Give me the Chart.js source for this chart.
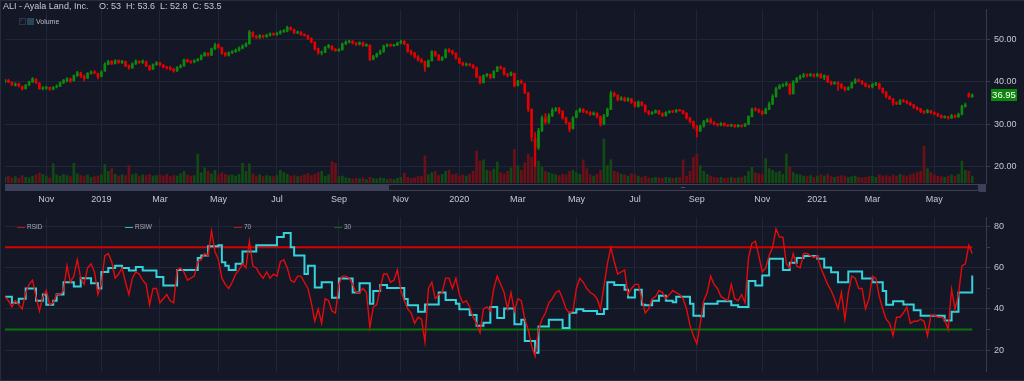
<!DOCTYPE html>
<html><head><meta charset="utf-8">
<script src="https://cdn.jsdelivr.net/npm/chart.js@4.4.1/dist/chart.umd.min.js"></script>
<style>
html,body{margin:0;padding:0;background:#141826;}
#wrap{position:relative;width:1024px;height:381px;overflow:hidden;background:#141826;}
#frame{position:absolute;left:0;top:0;width:1024px;height:381px;box-sizing:border-box;border:1px solid #262b3f;border-right:none;pointer-events:none}
#c1{position:absolute;left:0;top:0}
#c2{position:absolute;left:0;top:208px}
.t{position:absolute;font-family:'Liberation Sans',Arial,sans-serif;color:#c5c9d5;white-space:pre;line-height:1}
.lg{position:absolute;height:1px}
#dbg{position:absolute;left:300px;top:150px;color:#ff0;font:20px sans-serif}
</style></head>
<body><div id="wrap">
<canvas id="c1" width="1024" height="208"></canvas>
<canvas id="c2" width="1024" height="173"></canvas>
<div class="t" style="left:3px;top:2px;font-size:9px">ALI - Ayala Land, Inc.</div>
<div class="t" style="left:99px;top:2px;font-size:9px">O: 53  H: 53.6  L: 52.8  C: 53.5</div>
<div style="position:absolute;left:19px;top:18px;width:5px;height:5px;border:1px solid #2f3548;"></div>
<div class="t" style="left:19px;top:17px;font-size:6px;color:#3b4257">✓</div>
<div style="position:absolute;left:27px;top:18px;width:7px;height:7px;background:#26465a;"></div>
<div class="t" style="left:36px;top:18px;font-size:7px;color:#b9bdc9">Volume</div>
<div class="lg" style="left:17px;top:227px;width:8px;background:#c81010"></div>
<div class="t" style="left:27px;top:224px;font-size:6.5px;color:#a9adb9">RSID</div>
<div class="lg" style="left:125px;top:227px;width:8px;background:#2bb8c0"></div>
<div class="t" style="left:135px;top:224px;font-size:6.5px;color:#a9adb9">RSIW</div>
<div class="lg" style="left:234px;top:227px;width:8px;background:#c81010"></div>
<div class="t" style="left:244px;top:224px;font-size:6.5px;color:#a9adb9">70</div>
<div class="lg" style="left:334px;top:227px;width:8px;background:#0a700a"></div>
<div class="t" style="left:344px;top:224px;font-size:6.5px;color:#a9adb9">30</div>
<div id="frame"></div>
<div id="dbg"></div>
</div>
<script>
const dates = [
'2018-09-20','2018-09-24','2018-09-27','2018-10-01','2018-10-04','2018-10-08','2018-10-11','2018-10-15','2018-10-18','2018-10-22','2018-10-25','2018-10-29',
'2018-11-01','2018-11-05','2018-11-08','2018-11-12','2018-11-15','2018-11-19','2018-11-22','2018-11-26','2018-11-29','2018-12-03','2018-12-06','2018-12-10','2018-12-13','2018-12-17','2018-12-20','2018-12-27',
'2019-01-03','2019-01-07','2019-01-10','2019-01-14','2019-01-17','2019-01-21','2019-01-24','2019-01-28','2019-01-31','2019-02-04','2019-02-07','2019-02-11','2019-02-14','2019-02-18','2019-02-21','2019-02-25','2019-02-28',
'2019-03-04','2019-03-07','2019-03-11','2019-03-14','2019-03-18','2019-03-21','2019-03-25','2019-03-28','2019-04-01','2019-04-04','2019-04-08','2019-04-11','2019-04-15','2019-04-18','2019-04-22','2019-04-25','2019-04-29',
'2019-05-02','2019-05-06','2019-05-09','2019-05-13','2019-05-16','2019-05-20','2019-05-23','2019-05-27','2019-05-30','2019-06-03','2019-06-06','2019-06-10','2019-06-13','2019-06-17','2019-06-20','2019-06-24','2019-06-27',
'2019-07-01','2019-07-04','2019-07-08','2019-07-11','2019-07-15','2019-07-18','2019-07-22','2019-07-25','2019-07-29','2019-08-01','2019-08-05','2019-08-08','2019-08-12','2019-08-15','2019-08-19','2019-08-22','2019-08-26','2019-08-29',
'2019-09-02','2019-09-05','2019-09-09','2019-09-12','2019-09-16','2019-09-19','2019-09-23','2019-09-26','2019-09-30','2019-10-03','2019-10-07','2019-10-10','2019-10-14','2019-10-17','2019-10-21','2019-10-24','2019-10-28','2019-10-31',
'2019-11-04','2019-11-07','2019-11-11','2019-11-14','2019-11-18','2019-11-21','2019-11-25','2019-11-28','2019-12-02','2019-12-05','2019-12-09','2019-12-12','2019-12-16','2019-12-19','2019-12-23','2019-12-26','2019-12-30',
'2020-01-02','2020-01-06','2020-01-09','2020-01-13','2020-01-16','2020-01-20','2020-01-23','2020-01-27','2020-01-30','2020-02-03','2020-02-06','2020-02-10','2020-02-13','2020-02-17','2020-02-20','2020-02-24','2020-02-27',
'2020-03-02','2020-03-05','2020-03-09','2020-03-12','2020-03-16','2020-03-19','2020-03-23','2020-03-26','2020-03-30','2020-04-02','2020-04-06','2020-04-13','2020-04-16','2020-04-20','2020-04-23','2020-04-27','2020-04-30',
'2020-05-04','2020-05-07','2020-05-11','2020-05-14','2020-05-18','2020-05-21','2020-05-25','2020-05-28','2020-06-01','2020-06-04','2020-06-08','2020-06-11','2020-06-15','2020-06-18','2020-06-22','2020-06-25','2020-06-29',
'2020-07-02','2020-07-06','2020-07-09','2020-07-13','2020-07-16','2020-07-20','2020-07-23','2020-07-27','2020-07-30','2020-08-03','2020-08-06','2020-08-10','2020-08-13','2020-08-17','2020-08-20','2020-08-24','2020-08-27','2020-08-31',
'2020-09-03','2020-09-07','2020-09-10','2020-09-14','2020-09-17','2020-09-21','2020-09-24','2020-09-28','2020-09-30','2020-10-01','2020-10-05','2020-10-08','2020-10-12','2020-10-15','2020-10-19','2020-10-22','2020-10-26','2020-10-27','2020-10-29',
'2020-11-02','2020-11-05','2020-11-09','2020-11-12','2020-11-16','2020-11-19','2020-11-23','2020-11-26','2020-11-30','2020-12-03','2020-12-07','2020-12-10','2020-12-14','2020-12-17','2020-12-21','2020-12-28',
'2021-01-04','2021-01-07','2021-01-11','2021-01-14','2021-01-18','2021-01-21','2021-01-25','2021-01-28','2021-02-01','2021-02-04','2021-02-08','2021-02-11','2021-02-15','2021-02-18','2021-02-22','2021-02-25',
'2021-03-01','2021-03-04','2021-03-08','2021-03-11','2021-03-15','2021-03-18','2021-03-22','2021-03-25','2021-03-29','2021-04-01','2021-04-05','2021-04-08','2021-04-12','2021-04-15','2021-04-19','2021-04-22','2021-04-26','2021-04-29',
'2021-05-03','2021-05-06','2021-05-10','2021-05-13','2021-05-17','2021-05-20','2021-05-24','2021-05-27','2021-05-31','2021-06-03','2021-06-07','2021-06-10',
'2021-06-14','2021-06-17','2021-06-21','2021-06-24'
];
const open = [
40.0,40.4,39.9,39.2,39.6,38.9,38.4,39.3,40.0,40.6,39.7,38.4,
38.5,38.7,38.3,38.8,39.0,39.8,40.2,40.8,40.3,41.5,42.1,41.4,40.9,42.0,42.4,42.0,
41.3,42.6,44.2,44.9,44.3,45.1,44.5,44.8,43.9,43.3,44.3,44.9,44.6,44.8,43.8,43.0,44.1,
44.6,44.0,43.5,43.4,43.0,42.6,43.4,43.8,45.2,44.8,44.7,45.0,45.3,46.2,46.8,46.3,47.8,
48.8,48.1,46.8,46.3,46.9,47.2,47.5,48.0,48.5,49.0,51.7,50.8,50.5,50.9,50.7,51.0,51.4,
51.2,51.5,51.9,52.0,52.9,52.4,51.6,51.8,51.2,51.0,50.3,49.4,47.8,46.9,47.0,48.2,48.5,47.7,
47.4,47.6,49.0,49.4,49.6,49.2,48.9,49.3,48.6,48.7,45.4,46.0,46.6,47.2,48.5,48.8,48.6,48.7,
49.2,49.6,48.9,47.2,46.8,46.0,45.2,44.8,43.6,45.0,47.2,46.3,45.2,45.8,47.6,47.3,46.8,
45.6,44.5,44.0,44.2,44.0,43.4,41.2,39.8,41.5,41.8,41.0,42.5,43.5,43.2,41.8,41.6,42.0,
39.2,40.2,39.6,37.4,33.5,26.5,24.5,28.5,31.5,30.5,32.0,33.3,33.6,33.0,31.5,30.3,29.0,
31.6,33.0,33.5,33.0,32.8,32.3,32.6,31.8,30.0,32.0,33.5,37.3,36.8,35.8,36.2,35.6,36.0,
35.2,34.2,35.2,34.5,33.0,32.5,32.8,33.2,32.5,32.0,32.8,33.0,32.9,33.3,33.2,32.6,31.5,30.6,
29.5,28.4,29.5,30.6,31.0,30.4,30.0,29.8,30.2,29.7,29.6,29.8,29.4,29.7,29.5,30.0,31.8,33.5,33.4,
33.0,32.5,33.5,34.8,36.5,38.5,39.0,39.3,39.5,37.2,40.0,40.8,41.3,41.6,41.5,41.7,
41.4,41.8,41.0,41.4,40.0,39.6,39.8,39.5,38.7,38.2,38.6,39.8,40.5,40.2,39.6,39.0,
38.8,39.4,39.6,38.5,37.6,36.5,36.0,35.0,34.8,35.6,35.4,35.0,34.6,34.0,33.6,33.0,32.8,33.2,
32.7,32.4,32.0,31.6,31.8,31.5,32.0,31.7,32.3,34.2,37.2,36.5
];
const high = [
40.6,40.6,40.1,39.8,39.7,39.0,39.4,40.2,41.0,40.8,39.8,38.9,
39.0,38.8,38.9,39.3,40.0,40.6,41.0,40.9,41.7,42.5,42.3,41.6,42.2,42.6,42.7,42.1,
42.6,44.5,45.1,45.0,45.3,45.2,45.1,44.9,44.0,44.5,45.2,45.0,45.2,44.9,43.9,44.3,44.8,
44.7,44.1,43.7,43.6,43.2,43.6,44.1,45.4,45.4,45.0,45.3,45.6,46.4,47.0,46.9,48.0,49.2,
49.0,48.2,47.0,47.1,47.4,47.8,48.3,48.8,49.3,52.2,51.9,51.0,51.2,51.1,51.3,51.6,51.6,
51.8,52.2,52.4,53.2,53.0,52.5,52.0,51.9,51.4,51.1,50.4,49.5,48.0,47.3,48.4,48.9,48.6,47.9,
47.9,49.2,49.7,49.9,49.8,49.3,49.5,49.4,49.0,48.8,46.3,46.8,47.5,48.7,49.0,49.0,48.9,49.4,
49.9,49.8,49.0,47.5,47.0,46.2,45.5,44.9,45.2,47.4,47.3,46.5,46.0,47.8,47.9,47.5,46.9,
45.7,44.7,44.5,44.4,44.1,43.5,41.4,41.7,42.0,41.9,42.7,43.7,43.8,43.4,42.0,42.4,42.1,
40.4,40.5,39.7,37.5,33.6,28.0,29.0,32.0,32.5,32.5,33.8,34.0,34.0,33.2,31.7,30.5,31.8,
33.3,33.8,33.7,33.2,33.0,32.9,32.7,31.9,32.3,33.8,37.8,37.6,37.0,36.5,36.4,36.3,36.1,
35.3,35.5,35.3,34.6,33.2,33.0,33.4,33.3,32.7,33.0,33.2,33.3,33.5,33.5,33.3,32.7,31.6,30.7,
29.7,29.8,30.9,31.3,31.5,30.6,30.2,30.4,30.3,29.9,30.0,29.9,29.9,29.8,30.2,32.0,33.8,33.9,33.6,
33.2,33.8,35.2,37.0,38.8,39.4,39.6,40.0,39.6,40.3,41.1,41.6,42.0,41.9,42.0,41.9,
42.1,42.0,41.7,41.5,40.2,40.0,40.0,39.6,38.9,38.9,40.0,40.8,40.7,40.3,39.7,39.3,
39.7,39.9,39.7,38.6,37.7,36.7,36.1,35.3,35.8,35.9,35.6,35.2,34.7,34.1,33.7,33.2,33.5,33.3,
32.9,32.6,32.2,32.0,31.9,32.3,32.2,32.6,34.5,35.0,37.4,37.2
];
const low = [
39.8,39.8,39.1,39.0,38.8,38.1,38.3,39.1,39.9,39.6,38.2,38.1,
38.2,38.0,38.1,38.6,38.9,39.6,40.0,39.9,40.2,41.3,41.0,40.2,40.8,41.8,41.9,40.7,
41.2,42.5,44.0,44.1,44.2,44.4,44.4,43.6,43.0,43.2,44.1,44.4,44.4,43.6,42.7,42.9,43.9,
43.8,43.3,43.0,42.8,42.3,42.5,43.3,43.7,44.6,44.4,44.5,44.9,45.2,46.0,46.1,46.2,47.6,
48.0,46.5,46.0,46.1,46.7,47.0,47.3,47.8,48.3,48.9,50.5,50.2,50.3,50.4,50.5,50.8,51.0,
51.0,51.3,51.7,51.8,52.2,51.4,51.4,51.0,50.8,50.0,49.2,47.5,46.5,46.4,46.9,48.0,47.5,47.2,
47.2,47.5,48.8,49.2,49.0,48.6,48.7,48.4,48.4,45.0,45.2,45.8,46.5,47.0,48.3,48.4,48.4,48.6,
49.0,48.8,47.0,46.4,45.6,44.9,44.5,42.5,43.5,44.9,46.0,45.0,45.0,45.7,47.0,46.5,45.4,
44.3,43.8,43.8,43.7,43.2,41.0,39.5,39.7,41.2,40.7,40.9,42.4,43.0,41.6,41.2,41.4,38.8,
39.0,39.5,37.2,33.0,26.0,20.0,24.0,28.2,30.0,30.2,31.8,33.0,32.5,31.2,30.0,28.2,28.8,
31.5,32.8,32.7,32.5,32.0,32.1,31.5,29.5,29.8,31.8,33.4,36.5,35.5,35.6,35.3,35.4,34.9,
34.0,34.0,34.3,32.8,32.2,32.3,32.6,32.3,31.8,31.9,32.6,32.7,32.8,33.0,32.4,31.2,30.3,29.0,
27.0,28.2,29.3,30.4,30.2,29.8,29.5,29.6,29.5,29.4,29.4,29.2,29.3,29.3,29.4,29.9,31.7,33.1,32.7,
32.2,32.4,33.4,34.6,36.4,38.3,38.8,39.0,37.0,37.1,39.8,40.6,41.0,41.2,41.3,41.1,
41.2,40.8,40.5,39.8,39.3,39.4,38.0,38.4,37.8,38.0,38.5,39.6,40.0,39.4,38.8,38.6,
38.6,39.1,38.3,37.3,36.2,35.8,34.5,34.6,34.6,35.2,34.8,34.4,33.7,33.3,32.7,32.5,32.6,32.4,
32.2,31.8,31.4,31.4,31.2,31.3,31.5,31.6,32.2,34.0,36.3,36.3
];
const close = [
40.3,40.0,39.3,39.5,39.0,38.3,39.2,40.0,40.7,39.8,38.4,38.5,
38.6,38.3,38.7,39.0,39.8,40.3,40.7,40.2,41.5,42.2,41.4,40.8,42.0,42.3,42.1,41.2,
42.4,44.2,44.8,44.3,45.0,44.6,44.9,43.8,43.3,44.3,44.9,44.6,44.9,43.8,42.9,44.1,44.6,
44.0,43.5,43.3,43.0,42.6,43.4,43.8,45.2,44.8,44.7,45.0,45.3,46.2,46.8,46.3,47.8,48.8,
48.2,46.8,46.3,46.9,47.2,47.5,48.0,48.5,49.0,51.8,50.8,50.5,50.9,50.7,51.0,51.4,51.2,
51.5,51.9,52.0,52.9,52.4,51.6,51.8,51.2,51.0,50.3,49.5,47.8,46.9,47.0,48.2,48.6,47.7,47.4,
47.6,49.0,49.4,49.6,49.2,48.9,49.3,48.6,48.8,45.3,46.0,46.6,47.2,48.5,48.8,48.6,48.7,49.2,
49.6,49.0,47.2,46.8,46.0,45.2,44.8,43.6,45.0,47.2,46.3,45.2,45.8,47.6,47.3,46.8,45.6,
44.5,44.0,44.2,44.0,43.5,41.2,39.8,41.5,41.8,41.0,42.5,43.5,43.2,41.8,41.6,42.2,39.0,
40.2,39.8,37.5,33.5,27.0,24.5,28.5,31.5,30.5,32.0,33.3,33.6,33.0,31.5,30.3,28.8,31.5,
33.0,33.5,33.0,32.8,32.3,32.6,31.8,30.0,32.0,33.5,37.3,36.8,35.8,36.2,35.6,36.0,35.2,
34.2,35.2,34.5,33.0,32.5,32.8,33.2,32.5,32.0,32.8,33.0,32.9,33.3,33.2,32.6,31.5,30.6,29.5,
28.4,29.5,30.6,31.0,30.4,30.0,29.8,30.2,29.7,29.6,29.8,29.4,29.7,29.5,30.0,31.8,33.5,33.4,33.0,
32.5,33.5,34.8,36.5,38.5,39.0,39.3,39.6,37.2,40.0,40.8,41.3,41.6,41.5,41.7,41.4,
41.8,41.0,41.5,40.0,39.6,39.8,39.5,38.7,38.2,38.6,39.8,40.5,40.2,39.6,39.0,38.8,
39.4,39.6,38.5,37.6,36.5,36.0,35.0,34.8,35.6,35.4,35.0,34.6,34.0,33.6,33.0,32.8,33.2,32.7,
32.4,32.0,31.6,31.8,31.5,32.0,31.7,32.3,34.2,34.6,36.5,36.95
];
const volume = [
10,12,9,11,8,13,10,9,12,14,17,15,
12,9,33,14,12,15,13,11,34,16,13,12,14,10,11,12,
14,32,20,25,15,12,14,13,30,14,16,12,14,13,15,12,13,
14,12,15,11,13,12,16,20,14,12,13,50,18,26,20,16,22,
14,18,15,13,14,12,15,34,20,33,16,12,14,11,13,12,11,
13,22,18,15,12,13,11,12,14,16,13,15,18,20,12,14,37,34,
11,12,9,8,7,8,7,9,6,10,8,7,9,8,6,7,6,8,
10,17,10,8,9,11,12,47,14,18,20,13,15,20,22,14,16,
12,14,12,15,20,55,38,40,22,20,24,36,18,16,20,26,58,
30,22,35,50,45,60,38,28,20,18,16,14,13,15,14,20,22,
18,15,40,25,14,12,15,22,76,30,40,20,18,15,14,12,16,
14,12,10,12,9,8,10,9,8,10,9,8,9,10,40,12,20,45,
50,30,20,15,12,10,9,10,8,9,10,8,9,10,12,20,27,18,16,
15,42,25,22,18,20,15,50,28,18,15,14,12,11,13,10,
12,14,12,15,11,10,12,13,12,10,11,12,10,9,10,11,
12,10,14,12,13,11,14,12,15,13,12,14,16,18,20,64,25,18,
14,12,11,10,12,14,12,15,38,22,20,12
];
const rsid = [
46,44,41,44,42,40,48,52,54,46,39,46,
49,42,43,47,47,49,61,53,56,64,55,52,60,62,58,47,
52,66,67,63,55,57,60,53,47,55,58,57,54,52,42,50,50,
43,45,47,44,43,59,60,58,54,55,56,63,64,67,66,78,68,
64,55,52,50,53,57,59,62,60,73,61,60,57,55,58,55,57,
56,63,64,60,54,53,56,56,53,50,43,34,40,33,45,44,39,38,
52,56,56,55,52,48,48,50,48,31,41,42,50,57,57,53,54,59,
49,44,40,38,33,36,35,24,50,53,45,47,48,55,55,50,55,
47,43,44,41,36,33,28.5,40,41,39,50,56,52,48,40,48,39,
45,44,35,30,22,17,30,35,38,43,45,48,49,45,40,38,39,
50,55,53,50,48,47,45,40,51,62,70,63,57,58,59,47,50,
52,52,45,38,40,45,46,49,48,45,47,49,48,47,45,40,32,27,
23,33,44,48,56,52,50,46,45,44,52,45,44,47,43,65,72,73,66,
58,60,66,70,79,75,75,62,60,67,61,60,67,67,66,65,
66,60,56,52,49,45,40,48,35,48,56,55,50,50,40,45,
56,55,46,40,35,33,27,36,36,38,41,33,34,34,35,34,27,37,
37,36,36,35,30,49.5,40,47,61,62,71,67
];
const rsiw = [
46,46,43,43,45,45,50,50,50,44,44,47,
42,42,44,47,47,53,53,53,51,51,55,55,55,52.5,52.5,50,
58,58,60,60,61,61,60,60,58.7,58.7,60.5,60.5,58.7,58.7,58.7,58.7,55.6,
55.6,51.4,51.4,51.4,51.4,59,59,59,59,59,59,64.8,66,66,70.6,70.6,70.6,
71,62.8,61,59,59,62,62,68,68,68,68,71,71,71,71,71,71,
75,75,77,77,70,66,66,66,57,61,61,50.5,50.5,53,53,53,45.5,45.5,
54.8,54.8,54.8,54.8,48,48,52.5,52.5,52.5,42.5,48.7,48.7,51.7,51.7,50.2,50.2,50.2,50.2,
50.2,44.8,41.8,41.8,41.8,38.7,38.7,42.2,42.2,42.2,42.2,48,48,44.4,44.4,44.4,42.5,
39.8,39.8,39.8,37,37,31.8,31.8,33.3,33.3,41,41,35.6,35.6,40.2,40.2,40.2,32.5,
32.5,34.8,24.4,24.4,24.4,18.7,31.5,31.5,31.5,34.8,34.8,34.8,34.8,30.7,30.7,38.2,38.2,
39.8,39.8,39,39,39,39,37.5,37.5,40,53,53,51.7,51.7,51.7,49.4,45.6,45.6,
49.4,49.4,42,41.8,41.8,44,44,46.4,46.4,44,44,43.3,45.9,45.9,45.9,45.9,42.5,36.7,
36.7,36.4,42.5,42.5,42.5,42.5,43.7,43.7,43.7,43.7,41.8,41.8,41,41,41,53.6,53.6,51.4,51.4,
56.3,56.3,64.5,64.5,64.5,64.5,59,59,62.5,62.5,64.8,64.8,65.8,65.8,65.8,65.8,
64.5,64.5,60.2,60.2,57.9,57.9,53,53,53,58.3,58.3,58.3,58.3,54.8,54.8,54.8,
53,53,53,48.7,42,42,43.7,43.7,43.7,42.2,42.2,42.2,39.4,39.4,36.7,36.7,36.7,36.7,
36.7,36.7,36.7,34.4,34.4,38.7,38.7,48,48,48,48,56.3
];
const rsiLevels = [70, 30];
const priceTicks = [20, 30, 40, 50];
const rsiTicks = [20, 30, 40, 50, 60, 70, 80];
const monthNames = ['Jan','Feb','Mar','Apr','May','Jun','Jul','Aug','Sep','Oct','Nov','Dec'];

// sanity check
const n = close.length;
const lens = [open, high, low, close, volume, rsid, rsiw].map(a => a.length);
if (lens.some(l => l !== n)) document.getElementById('dbg').textContent = 'LEN ' + lens.join(',');

const FAMILY = "'Liberation Sans', Arial, sans-serif";
const GRID = '#20253a';
const AXIS = '#363b52';
const LABEL = '#c5c9d5';

// month ticks: first sample of every other month
const tickIdx = [];
for (let i = 1; i < dates.length; i++) {
  if (dates[i].slice(5, 7) !== dates[i - 1].slice(5, 7)) {
    const m = +dates[i].slice(5, 7) - 1;
    if (m % 2 === 0) tickIdx.push(i);
  }
}
function monthLabel(i) {
  const d = dates[i]; const m = +d.slice(5, 7) - 1;
  return m === 0 ? d.slice(0, 4) : monthNames[m];
}

const up = close.map((c, i) => c >= open[i]);
const candleCol = up.map(u => u ? '#0d8a0d' : '#e60000');
const volCol = up.map(u => u ? '#124a14' : '#6c1018');
const bodies = open.map((o, i) => [o, close[i]]);
const wicks = low.map((l, i) => [l, high[i]]);

const xScaleBase = (showLabels) => ({
  type: 'category', offset: false,
  grid: { color: GRID, drawTicks: false, offset: false },
  border: { display: false },
  ticks: {
    display: showLabels, autoSkip: false, maxRotation: 0, padding: 11,
    color: LABEL, font: { family: FAMILY, size: 9 },
    callback: (v) => monthLabel(v)
  },
  afterBuildTicks: (s) => { s.ticks = tickIdx.map(i => ({ value: i })); },
  afterFit: (s) => { s.height = showLabels ? 25 : 6; }
});

const navPlugin = {
  id: 'nav',
  afterDraw(chart) {
    const ctx = chart.ctx, a = chart.chartArea;
    const y0 = a.bottom + 1, h = 7;
    ctx.save();
    ctx.fillStyle = '#3c4159';
    ctx.fillRect(a.left, y0, 383, h);
    ctx.fillStyle = '#161a29';
    ctx.fillRect(a.left + 383, y0, a.right - 7 - (a.left + 383), h);
    ctx.strokeStyle = '#3c4159'; ctx.lineWidth = 1;
    ctx.strokeRect(a.left + 383.5, y0 + 0.5, a.right - 7 - (a.left + 383) - 1, h - 1);
    ctx.fillStyle = '#3c4159';
    ctx.fillRect(a.right - 7, y0, 7, h + 1);
    ctx.fillStyle = '#4a4f68';
    ctx.fillRect(681, y0 + 3, 4, 1);
    // last price tag
    const last = close[close.length - 1];
    const yv = chart.scales.y.getPixelForValue(last);
    ctx.fillStyle = '#0c870c';
    ctx.fillRect(a.right + 5, Math.round(yv) - 6, 26, 12);
    ctx.fillStyle = '#ffffff';
    ctx.font = '9.5px ' + FAMILY;
    ctx.textAlign = 'center'; ctx.textBaseline = 'middle';
    ctx.fillText(last.toFixed(2), a.right + 18, Math.round(yv) + 0.5);
    ctx.restore();
  }
};

new Chart(document.getElementById('c1'), {
  type: 'bar',
  data: {
    labels: dates,
    datasets: [
      { label: 'Volume', data: volume, yAxisID: 'yv', backgroundColor: volCol, barThickness: 2, grouped: false, order: 3 },
      { label: 'Wick', data: wicks, yAxisID: 'y', backgroundColor: candleCol, barThickness: 1, grouped: false, order: 2 },
      { label: 'Body', data: bodies, yAxisID: 'y', backgroundColor: candleCol, barThickness: 2, minBarLength: 1, grouped: false, order: 1 }
    ]
  },
  options: {
    responsive: false, animation: false, devicePixelRatio: 1,
    layout: { padding: { left: 5, top: 5, right: 0, bottom: 0 } },
    plugins: { legend: { display: false }, tooltip: { enabled: false } },
    scales: {
      x: xScaleBase(true),
      y: {
        position: 'right', min: 16.077, max: 57.154,
        grid: { color: GRID, tickLength: 4, tickColor: AXIS },
        border: { display: true, color: AXIS },
        ticks: { color: LABEL, font: { family: FAMILY, size: 9 }, padding: 4, callback: (v) => Number(v).toFixed(2) },
        afterBuildTicks: (s) => { s.ticks = priceTicks.map(v => ({ value: v })); },
        afterFit: (s) => { s.width = 38; }
      },
      yv: { display: false, min: 0, max: 300 }
    }
  },
  plugins: [navPlugin]
});

const lastIdx = close.length - 1;
new Chart(document.getElementById('c2'), {
  type: 'line',
  data: {
    labels: dates,
    datasets: [
      { label: 'RSID', data: rsid, borderColor: '#e60a0a', borderWidth: 1.4, pointRadius: 0, tension: 0, order: 1 },
      { label: 'RSIW', data: rsiw, borderColor: '#33d2dc', borderWidth: 2, pointRadius: 0, stepped: true, order: 2 },
      { label: '70', data: [{ x: dates[0], y: rsiLevels[0] }, { x: dates[lastIdx], y: rsiLevels[0] }], borderColor: '#d60000', borderWidth: 2, pointRadius: 0, order: 3 },
      { label: '30', data: [{ x: dates[0], y: rsiLevels[1] }, { x: dates[lastIdx], y: rsiLevels[1] }], borderColor: '#0a740a', borderWidth: 2, pointRadius: 0, order: 4 }
    ]
  },
  options: {
    responsive: false, animation: false, devicePixelRatio: 1,
    layout: { padding: { left: 5, top: 4, right: 0, bottom: 0 } },
    plugins: { legend: { display: false }, tooltip: { enabled: false } },
    scales: {
      x: xScaleBase(false),
      y: {
        position: 'right', min: 9.49, max: 84.6,
        grid: { color: (c) => (c.tick && c.tick.value % 20 === 0) ? GRID : 'rgba(0,0,0,0)', tickLength: 4, tickColor: AXIS },
        border: { display: true, color: AXIS },
        ticks: { color: LABEL, font: { family: FAMILY, size: 9 }, padding: 4, callback: (v) => (v % 20 === 0 ? String(v) : '') },
        afterBuildTicks: (s) => { s.ticks = rsiTicks.map(v => ({ value: v })); },
        afterFit: (s) => { s.width = 38; }
      }
    }
  }
});
</script>
</body></html>
